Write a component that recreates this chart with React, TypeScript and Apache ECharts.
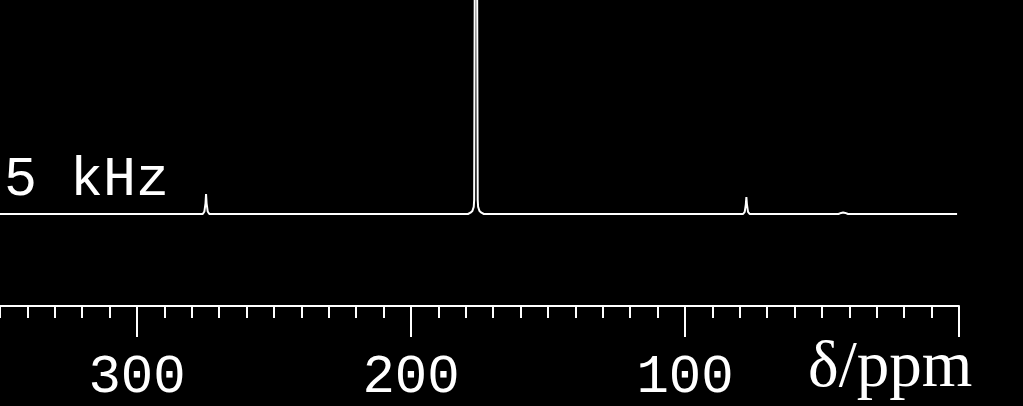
import React, { useEffect, useRef } from "react";
import * as echarts from "echarts";

// Chemical shift (ppm) and relative intensity
const ppm = [
  355, 276.0, 275.4, 275.0, 274.8, 274.6, 274.2, 273.6,
  179.2, 178.3, 177.6, 177.1, 176.95, 176.94, 176.9, 176.75, 176.3, 175.85, 175.7, 175.66, 175.65, 175.5, 175.0, 174.3, 173.4,
  78.8, 78.2, 77.8, 77.6, 77.4, 77.0, 76.4,
  44.0, 43.0, 42.3, 41.5, 40.5,
  0.7,
];
const intensity = [
  0, 0, 1.2, 5, 9.3, 5, 1.2, 0,
  0, 0.6, 1.4, 3.3, 6.5, 12, 30, 100, 200, 100, 30, 12, 6.5, 3.3, 1.4, 0.6, 0,
  0, 1, 4.5, 7.9, 4.5, 1, 0,
  0, 0.5, 0.7, 0.5, 0,
  0,
];
const spinRateLabel = "5 kHz";
const axisTitle = "δ/ppm";
const axisMin = 0;
const axisMax = 400;
const axisInterval = 100;

export default function App() {
  const ref = useRef<HTMLDivElement>(null);
  useEffect(() => {
    if (!ref.current) return;
    const chart = echarts.init(ref.current, undefined, { renderer: "svg" });
    const data = ppm.map((p, i) => [p, intensity[i]]);
    chart.setOption({
      animation: false,
      backgroundColor: "#000",
      grid: {
        left: -137,
        right: 64,
        top: 0,
        bottom: 170.6,
        containLabel: false,
        outerBoundsMode: "none",
      },
      xAxis: {
        type: "value",
        inverse: true,
        min: axisMin,
        max: axisMax,
        interval: axisInterval,
        offset: 70.6,
        axisLine: { show: true, onZero: false, lineStyle: { color: "#fff", width: 2 } },
        axisTick: { show: true, length: 31, lineStyle: { color: "#fff", width: 2 } },
        minorTick: { show: true, splitNumber: 10, length: 12, lineStyle: { color: "#fff", width: 2 } },
        splitLine: { show: false },
        minorSplitLine: { show: false },
        axisLabel: {
          color: "#fff",
          fontFamily: '"Liberation Mono", monospace',
          fontSize: 54,
          margin: 44,
          showMinLabel: false,
          showMaxLabel: false,
        },
      },
      yAxis: { type: "value", min: -10, max: 100, show: false },
      series: [
        {
          type: "line",
          data,
          symbol: "none",
          showSymbol: false,
          clip: true,
          silent: true,
          lineStyle: { color: "#fff", width: 2 },
        },
      ],
      graphic: [
        {
          type: "text",
          left: 4,
          top: 153,
          style: {
            text: spinRateLabel,
            fill: "#fff",
            font: '55px "Liberation Mono", monospace',
          },
        },
        {
          type: "text",
          left: 808,
          top: 331,
          style: {
            text: axisTitle,
            fill: "#fff",
            font: '65px "Liberation Serif", serif',
          },
        },
      ],
    });
    return () => chart.dispose();
  }, []);
  return (
    <div
      ref={ref}
      style={{ position: "fixed", left: 0, top: 0, width: 1023, height: 406, background: "#000" }}
    />
  );
}
